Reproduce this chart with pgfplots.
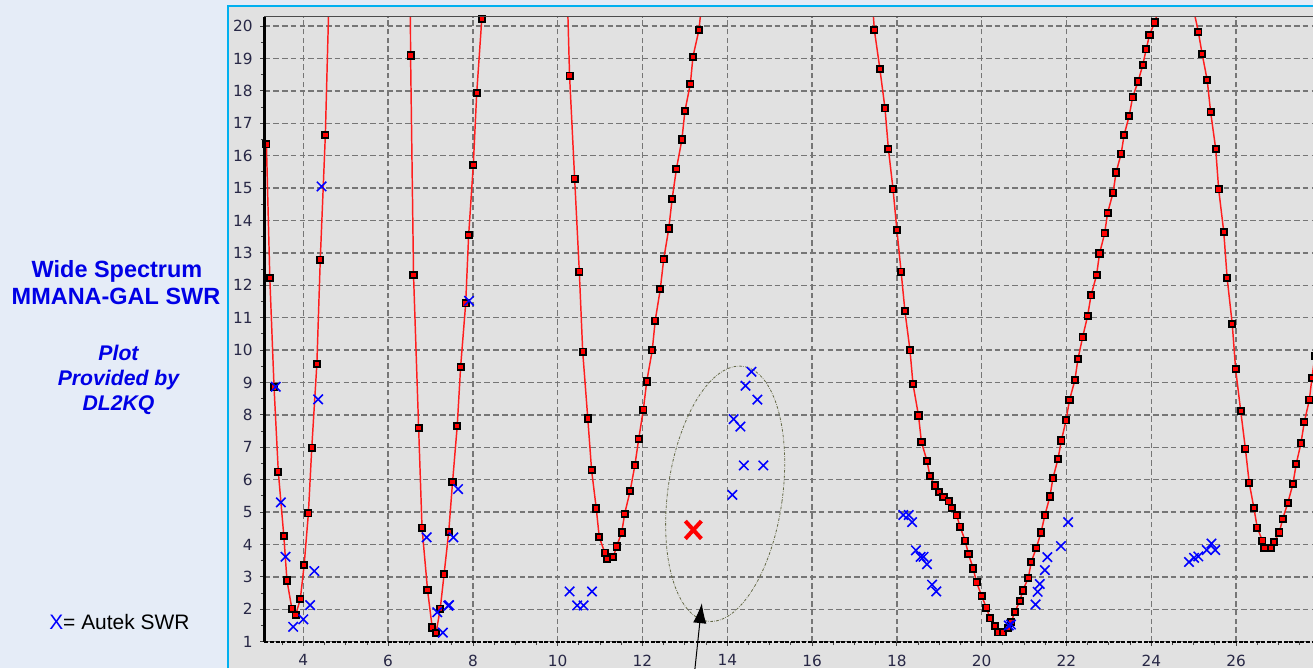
\documentclass[border=0pt]{standalone}
\usepackage{fontspec}
\setmainfont{Liberation Sans}
\newfontfamily\dejavu{DejaVu Sans}
\usepackage{pgfplots}
\usepackage{pgfplotstable}
\pgfplotsset{compat=1.18}
\usetikzlibrary{arrows.meta,shapes.geometric}
\definecolor{panelbg}{RGB}{229,236,247}
\definecolor{plotbg}{RGB}{225,225,225}
\definecolor{frameblue}{RGB}{0,176,240}
\definecolor{txtblue}{RGB}{0,0,230}
\definecolor{gridgray}{RGB}{118,118,118}
\definecolor{ticktxt}{RGB}{40,40,70}
\definecolor{ellcol}{RGB}{100,105,70}
\definecolor{redcol}{RGB}{255,30,30}
\definecolor{xblue}{RGB}{0,0,255}

\pgfplotstableread{
x y
3.13 16.35
3.21 12.22
3.31 8.85
3.41 6.25
3.54 4.27
3.615 2.89
3.73 2.02
3.82 1.83
3.93 2.32
4.02 3.37
4.12 4.96
4.20 6.99
4.32 9.57
4.40 12.79
4.52 16.64
4.60 20.6
}\segA

\pgfplotstableread{
x y
6.525 20.6
6.53 19.09
6.60 12.31
6.72 7.60
6.80 4.52
6.93 2.60
7.04 1.44
7.13 1.26
7.23 2.02
7.32 3.08
7.43 4.39
7.52 5.92
7.63 7.65
7.71 9.47
7.83 11.44
7.90 13.55
8.01 15.72
8.09 17.93
8.21 20.22
8.23 20.6
}\segB

\pgfplotstableread{
x y
10.235 20.6
10.28 18.47
10.40 15.29
10.51 12.42
10.59 9.95
10.71 7.89
10.80 6.29
10.91 5.11
10.98 4.23
11.11 3.75
11.17 3.55
11.31 3.61
11.39 3.94
11.51 4.37
11.58 4.95
11.71 5.66
11.82 6.44
11.91 7.25
12.02 8.16
12.10 9.03
12.23 9.99
12.30 10.91
12.42 11.88
12.50 12.80
12.62 13.75
12.70 14.67
12.80 15.59
12.93 16.50
13.00 17.37
13.13 18.22
13.19 19.05
13.33 19.87
13.39 20.6
}\segC

\pgfplotstableread{
x y
17.43 20.6
17.47 19.87
17.60 18.67
17.72 17.46
17.80 16.21
17.91 14.96
18.00 13.71
18.10 12.42
18.19 11.20
18.31 9.99
18.38 8.95
18.51 7.98
18.58 7.16
18.71 6.58
18.78 6.11
18.90 5.82
19.00 5.62
19.10 5.46
19.22 5.33
19.29 5.12
19.41 4.90
19.49 4.55
19.61 4.12
19.69 3.70
19.80 3.26
19.88 2.83
20.00 2.41
20.11 2.05
20.20 1.72
20.31 1.49
20.39 1.29
20.51 1.29
20.62 1.43
20.70 1.61
20.78 1.92
20.90 2.25
20.97 2.58
21.10 2.97
21.17 3.46
21.29 3.90
21.40 4.37
21.49 4.90
21.61 5.48
21.68 6.04
21.80 6.64
21.88 7.21
21.99 7.83
22.07 8.45
22.20 9.08
22.27 9.72
22.38 10.39
22.50 11.06
22.58 11.69
22.71 12.31
22.78 12.98
22.90 13.60
22.97 14.23
23.10 14.86
23.17 15.48
23.29 16.06
23.36 16.64
23.48 17.23
23.56 17.80
23.69 18.29
23.80 18.80
23.88 19.28
23.96 19.73
24.08 20.11
24.50 21.8
25.00 20.5
25.11 19.82
25.20 19.14
25.32 18.33
25.40 17.35
25.52 16.21
25.59 14.96
25.71 13.65
25.79 12.22
25.91 10.81
25.99 9.41
26.11 8.12
26.22 6.96
26.31 5.91
26.42 5.13
26.50 4.52
26.62 4.12
26.67 3.90
26.83 3.90
26.90 4.08
27.02 4.37
27.10 4.79
27.22 5.28
27.34 5.86
27.42 6.49
27.53 7.12
27.61 7.78
27.73 8.47
27.79 9.14
27.86 9.82
28.10 11.3
}\segD

\pgfplotstableread{
x y
3.35 8.87
4.43 15.05
4.35 8.48
3.47 5.30
3.58 3.62
3.76 1.46
4.00 1.69
4.16 2.13
4.26 3.18
7.91 11.52
6.91 4.22
7.16 1.91
7.29 1.28
7.42 2.11
7.44 2.13
7.54 4.22
7.65 5.71
10.28 2.55
10.46 2.12
10.61 2.12
10.81 2.55
14.57 9.33
14.43 8.90
14.71 8.47
14.15 7.87
14.31 7.64
14.39 6.44
14.85 6.44
14.12 5.53
18.15 4.91
18.28 4.91
18.36 4.69
18.45 3.82
18.56 3.62
18.63 3.62
18.71 3.39
18.83 2.76
18.93 2.55
20.64 1.50
20.69 1.53
21.27 2.15
21.32 2.54
21.37 2.78
21.49 3.21
21.55 3.61
21.87 3.95
22.04 4.69
24.89 3.46
25.01 3.59
25.11 3.63
25.31 3.83
25.42 4.03
25.51 3.83
}\autek

\begin{document}
\begin{tikzpicture}
\useasboundingbox (0,0) rectangle (984.75pt,501pt);
\begin{scope}[shift={(0pt,501pt)},x=0.75pt,y=-0.75pt]
  \fill[panelbg] (0,0) rectangle (1313,668);
  \fill[plotbg] (229,7) rectangle (1313,668);
  \draw[frameblue, line width=1.5pt] (228,668) -- (228,6) -- (1313,6);
  \node[anchor=base, txtblue, inner sep=0pt, font=\bfseries\fontsize{17.6}{20}\selectfont] at (117,277.3) {Wide Spectrum};
  \node[anchor=base, txtblue, inner sep=0pt, font=\bfseries\fontsize{17.6}{20}\selectfont] at (116,305) {MMANA-GAL SWR};
  \node[anchor=base, txtblue, inner sep=0pt, font=\bfseries\itshape\fontsize{15.9}{18}\selectfont] at (118.5,361) {Plot};
  \node[anchor=base, txtblue, inner sep=0pt, font=\bfseries\itshape\fontsize{15.9}{18}\selectfont] at (118.5,385.7) {Provided by};
  \node[anchor=base, txtblue, inner sep=0pt, font=\bfseries\itshape\fontsize{15.9}{18}\selectfont] at (118.5,411) {DL2KQ};
  \node[anchor=base west, inner sep=0pt, font=\fontsize{15.7}{18}\selectfont] at (49,629) {\textcolor{xblue}{X}= Autek SWR};
\end{scope}
\begin{axis}[
  name=ax,
  at={(198.225pt,19.725pt)}, anchor=south west,
  scale only axis, width=792.4pt, height=468.8pt,
  xmin=3.08, xmax=28.0, ymin=1, ymax=20.29,
  axis background/.style={fill=plotbg},
  axis line style={draw=none},
  xtick={4,6,...,26}, ytick={1,2,...,20},
  minor xtick={3.5,4,...,27.5}, minor ytick={1.5,2.5,...,19.5},
  xtick pos=bottom, ytick pos=left,
  tick align=outside,
  major tick length=3pt, minor tick length=2.5pt,
  every tick/.style={black!75, line width=0.6pt},
  grid=major,
  major grid style={gridgray, line width=1pt, dash pattern=on 4.2pt off 2.4pt},
  /pgf/number format/assume math mode=true,
  tick label style={font=\dejavu\fontsize{11.5}{12}\selectfont, text=ticktxt},
  yticklabel style={anchor=east, inner sep=0pt, xshift=-5.5pt},
  xticklabel style={anchor=north, inner sep=0pt, yshift=-6.5pt},
  clip=true,
]
\addplot[redcol, line width=1.1pt, no marks] table {\segA};
\addplot[redcol, line width=1.1pt, no marks] table {\segB};
\addplot[redcol, line width=1.1pt, no marks] table {\segC};
\addplot[redcol, line width=1.1pt, no marks] table {\segD};
\pgfplotsset{mk/.style={only marks, mark=square*, mark size=2.35pt, restrict y to domain=0:20.3, restrict x to domain=3:27.95, mark options={fill=red, draw=black, line width=1.4pt}}}
\addplot[mk] table {\segA};
\addplot[mk] table {\segB};
\addplot[mk] table {\segC};
\addplot[mk] table {\segD};
\addplot[only marks, mark=x, mark size=5pt, mark options={xblue, line width=1.15pt}] table {\autek};
\addplot[only marks, mark=x, mark size=8.5pt, mark options={red, line width=3pt, yscale=1.1}] coordinates {(13.20,4.45)};
\node[draw=ellcol, ellipse, inner sep=0pt, minimum width=86pt, minimum height=193pt, rotate=-8, line width=0.6pt, dash pattern=on 2pt off 1pt on 0.4pt off 1pt] at (axis cs:13.95,5.565) {};
\coordinate (arrtip) at (axis cs:13.40,2.19);
\coordinate (arrtail) at (axis cs:13.22,-0.05);
\end{axis}
\draw[black, line width=2pt] (ax.south west) -- (ax.north west);
\draw[black!70, line width=1.1pt] (ax.north west) -- (ax.north east);
\draw[black, line width=1.6pt, dash pattern=on 3pt off 1.2pt] (ax.south west) -- (ax.south east);
\draw[black, line width=0.75pt, -{Latex[length=15pt,width=10pt]}] (arrtail) -- (arrtip);
\end{tikzpicture}
\end{document}
